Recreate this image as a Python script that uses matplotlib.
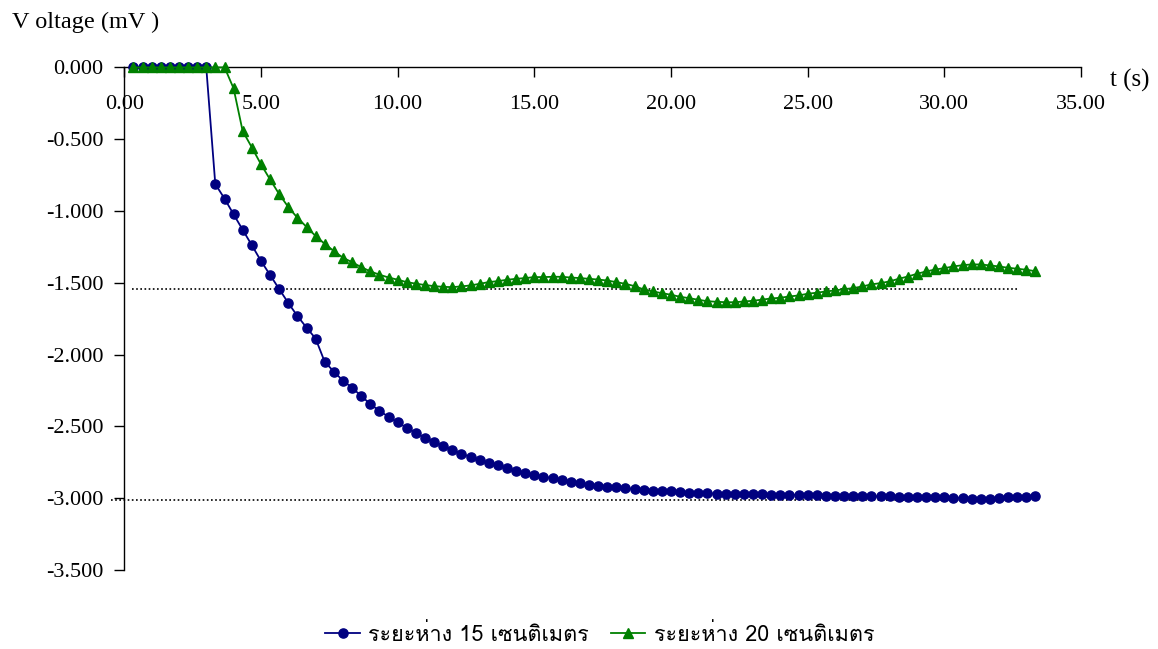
import matplotlib
matplotlib.use("Agg")
import matplotlib.pyplot as plt
from matplotlib import font_manager
from matplotlib.lines import Line2D

# ---------------- data ----------------
time_s = [0.33, 0.67, 1.00, 1.33, 1.67, 2.00, 2.33, 2.67, 3.00, 3.33,
          3.67, 4.00, 4.33, 4.67, 5.00, 5.33, 5.67, 6.00, 6.33, 6.67,
          7.00, 7.33, 7.67, 8.00, 8.33, 8.67, 9.00, 9.33, 9.67, 10.00,
          10.33, 10.67, 11.00, 11.33, 11.67, 12.00, 12.33, 12.67, 13.00, 13.33,
          13.67, 14.00, 14.33, 14.67, 15.00, 15.33, 15.67, 16.00, 16.33, 16.67,
          17.00, 17.33, 17.67, 18.00, 18.33, 18.67, 19.00, 19.33, 19.67, 20.00,
          20.33, 20.67, 21.00, 21.33, 21.67, 22.00, 22.33, 22.67, 23.00, 23.33,
          23.67, 24.00, 24.33, 24.67, 25.00, 25.33, 25.67, 26.00, 26.33, 26.67,
          27.00, 27.33, 27.67, 28.00, 28.33, 28.67, 29.00, 29.33, 29.67, 30.00,
          30.33, 30.67, 31.00, 31.33, 31.67, 32.00, 32.33, 32.67, 33.00, 33.33]

voltage_15cm = [0, 0, 0, 0, 0, 0, 0, 0, 0, -0.812,
                -0.914, -1.023, -1.130, -1.239, -1.347, -1.444, -1.544, -1.640, -1.730, -1.812,
                -1.888, -2.049, -2.119, -2.181, -2.230, -2.288, -2.344, -2.391, -2.433, -2.472,
                -2.509, -2.546, -2.579, -2.607, -2.635, -2.663, -2.689, -2.714, -2.733, -2.752,
                -2.770, -2.791, -2.809, -2.823, -2.839, -2.851, -2.860, -2.870, -2.885, -2.897,
                -2.906, -2.913, -2.919, -2.924, -2.928, -2.937, -2.944, -2.949, -2.951, -2.953,
                -2.958, -2.963, -2.965, -2.966, -2.968, -2.968, -2.970, -2.971, -2.972, -2.973,
                -2.975, -2.975, -2.976, -2.976, -2.977, -2.978, -2.982, -2.984, -2.985, -2.986,
                -2.987, -2.987, -2.988, -2.988, -2.989, -2.990, -2.990, -2.991, -2.992, -2.993,
                -2.995, -2.998, -3.002, -3.004, -3.002, -2.995, -2.990, -2.989, -2.989, -2.988]

voltage_20cm = [0, 0, 0, 0, 0, 0, 0, 0, 0, 0,
                0, -0.146, -0.442, -0.558, -0.674, -0.779, -0.883, -0.972, -1.046, -1.111,
                -1.174, -1.228, -1.279, -1.325, -1.356, -1.391, -1.420, -1.443, -1.463, -1.478,
                -1.495, -1.506, -1.515, -1.523, -1.528, -1.530, -1.525, -1.518, -1.507, -1.495,
                -1.488, -1.479, -1.472, -1.467, -1.460, -1.460, -1.458, -1.458, -1.463, -1.467,
                -1.472, -1.477, -1.484, -1.495, -1.507, -1.523, -1.546, -1.560, -1.572, -1.583,
                -1.597, -1.607, -1.618, -1.628, -1.632, -1.635, -1.635, -1.630, -1.625, -1.617,
                -1.609, -1.604, -1.595, -1.588, -1.576, -1.569, -1.560, -1.553, -1.544, -1.537,
                -1.525, -1.511, -1.502, -1.490, -1.472, -1.456, -1.437, -1.421, -1.407, -1.398,
                -1.386, -1.377, -1.372, -1.372, -1.379, -1.386, -1.395, -1.402, -1.409, -1.419]

ref_levels = [-1.54, -3.01]
series_labels = ["ระยะห่าง 15 เซนติเมตร", "ระยะห่าง 20 เซนติเมตร"]
x_ticks = [0, 5, 10, 15, 20, 25, 30, 35]
y_ticks = [0, -0.5, -1.0, -1.5, -2.0, -2.5, -3.0, -3.5]
y_label = "V oltage (mV )"
x_label = "t (s)"


# ---------------- fonts ----------------
def find_thai_font():
    try:
        from fontTools.ttLib import TTFont
    except Exception:
        return None
    names = set()
    for fe in font_manager.fontManager.ttflist:
        try:
            f = TTFont(fe.fname, fontNumber=0, lazy=True)
            cmap = f.getBestCmap()
            if cmap and 0x0E23 in cmap and 0x0E40 in cmap:
                names.add(fe.name)
        except Exception:
            continue
    for pref in ("Norasi", "Kinnari", "Laksaman", "Garuda", "Loma"):
        if pref in names:
            return pref
    return sorted(names)[0] if names else None


thai_font = find_thai_font()
latin = "Liberation Serif"
plt.rcParams["font.family"] = [latin, "DejaVu Serif"]
plt.rcParams["axes.unicode_minus"] = False

navy = "#000080"
green = "#008000"

fig = plt.figure(figsize=(11.58, 6.49), dpi=100)
ax = fig.add_axes([0.1073, 0.1217, 0.8262, 0.7744])

ax.plot(time_s, voltage_15cm, color=navy, lw=1.3, marker="o", ms=6.6,
        clip_on=False, zorder=3)
ax.plot(time_s, voltage_20cm, color=green, lw=1.3, marker="^", ms=7.4,
        clip_on=False, zorder=4)

# reference dotted lines
ax.plot([0.28, 32.65], [ref_levels[0]] * 2, color="black", lw=1.2,
        ls=(0, (1, 1.5)), clip_on=False, zorder=2)
ax.plot([-0.5, 32.8], [ref_levels[1]] * 2, color="black", lw=1.2,
        ls=(0, (1, 1.5)), clip_on=False, zorder=2)

ax.set_xlim(0, 35)
ax.set_ylim(-3.5, 0)
ax.spines["top"].set_visible(False)
ax.spines["right"].set_visible(False)
ax.spines["bottom"].set_position(("data", 0))
for s in ("left", "bottom"):
    ax.spines[s].set_linewidth(1.0)
    ax.spines[s].set_zorder(1)

ax.set_xticks(x_ticks)
ax.set_xticklabels(["%.2f" % v for v in x_ticks])
ax.set_yticks(y_ticks)
ax.set_yticklabels(["%.3f" % v for v in y_ticks])
ax.tick_params(axis="x", direction="out", length=7, width=1.0, pad=13,
               labelsize=16)
ax.tick_params(axis="y", direction="out", length=7, width=1.0, pad=8,
               labelsize=16)

fig.text(12 / 1158, 1 - 22 / 649, y_label, fontsize=17.5, ha="left",
         va="center")
fig.text(1110 / 1158, 1 - 80 / 649, x_label, fontsize=18, ha="left",
         va="center")

leg_family = [thai_font, latin] if thai_font else [latin]
handles = [Line2D([], [], color=navy, lw=1.3, marker="o", ms=6.6),
           Line2D([], [], color=green, lw=1.3, marker="^", ms=7.4)]
fig.legend(handles, series_labels, loc="center", ncol=2, frameon=False,
           bbox_to_anchor=(0.518, 0.022), handlelength=1.6, handletextpad=0.4,
           columnspacing=1.0, prop={"family": leg_family, "size": 15.5})

fig.savefig("out.png", dpi=100)
